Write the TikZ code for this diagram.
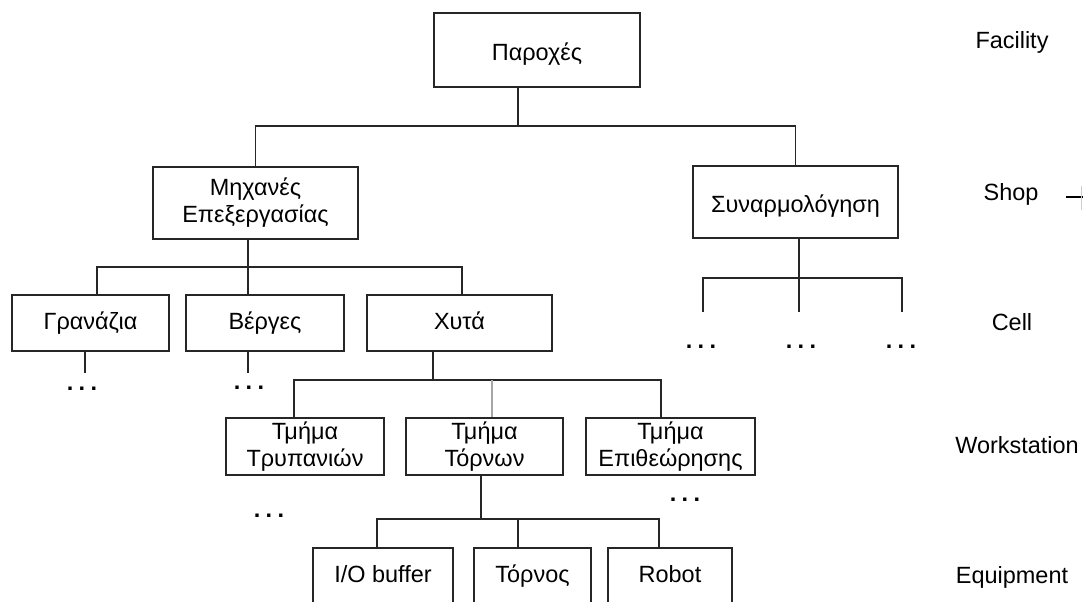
\documentclass[tikz,border=0pt]{standalone}
\usepackage{fontspec}
\setmainfont{Liberation Sans}
\begin{document}
\begin{tikzpicture}[x=0.75pt,y=-0.75pt,
  box/.style={draw=black!85,line width=1.1pt,inner sep=0pt,align=center,
    font=\fontsize{17.6}{20.3}\selectfont},
  oneline/.style={text height=13.2pt,text depth=3.5pt},
  topline/.style={text height=15pt,text depth=0pt},
  conn/.style={draw=black!85,line width=1pt},
  faint/.style={draw=black!35,line width=0.8pt},
  level/.style={anchor=base,font=\fontsize{17.6}{20.3}\selectfont},
  more/.style={anchor=base,font=\fontsize{17.6}{20.3}\selectfont\bfseries}]
\useasboundingbox (0,0) rectangle (1083,601);

% facility
\node[box,topline,minimum width=154.5pt,minimum height=55.5pt] (par) at (537,50) {Παροχές};

% shops
\node[box,minimum width=153.75pt,minimum height=54pt] (mech) at (255.5,203) {Μηχανές\\Επεξεργασίας};
\node[box,topline,minimum width=153.75pt,minimum height=54pt] (asm) at (795.5,202) {Συναρμολόγηση};

% cells
\node[box,oneline,minimum width=117.75pt,minimum height=42pt] (gran) at (90.5,323) {Γρανάζια};
\node[box,oneline,minimum width=118.5pt,minimum height=42pt] (verg) at (265,323) {Βέργες};
\node[box,oneline,minimum width=138.75pt,minimum height=42pt] (xyta) at (459.5,323) {Χυτά};

% workstations
\node[box,minimum width=118.5pt,minimum height=42.75pt] (trup) at (305,446.5) {Τμήμα\\Τρυπανιών};
\node[box,minimum width=117.75pt,minimum height=42.75pt] (torn) at (484.5,446.5) {Τμήμα\\Τόρνων};
\node[box,minimum width=126.75pt,minimum height=42.75pt] (epit) at (670.5,446.5) {Τμήμα\\Επιθεώρησης};

% equipment
\node[box,oneline,minimum width=105pt,minimum height=42pt] (io) at (383,576) {I/O buffer};
\node[box,oneline,minimum width=87.75pt,minimum height=42pt] (tornos) at (532.5,576) {Τόρνος};
\node[box,oneline,minimum width=93pt,minimum height=42pt] (robot) at (670,576) {Robot};

% facility -> shops
\draw[conn] (par.south -| 518,0) -- (518,126);
\draw[conn] (mech.north) |- (asm.north |- 0,126) -- (asm.north);

% machining shop -> cells
\draw[conn] (mech.south -| 248,0) -- (248,267);
\draw[conn] (gran.north -| 97,0) |- (462,267) -- (xyta.north -| 462,0);
\draw[conn] (248,267) -- (verg.north -| 248,0);

% assembly shop -> unnamed cells
\draw[conn] (asm.south -| 799,0) -- (799,312);
\coordinate (a1) at (703,312);
\coordinate (a3) at (902,312);
\draw[conn] (a1) |- (a3 |- 0,278) -- (a3);
\node[more] (d4) at (701,348) {.\kern4pt.\kern4pt.};
\node[more] (d5) at (801,348) {.\kern4pt.\kern4pt.};
\node[more] (d6) at (901,348) {.\kern4pt.\kern4pt.};

% cells that continue
\coordinate (g1) at (85,373);
\coordinate (v1) at (248,373);
\draw[conn] (gran.south -| g1) -- (g1);
\draw[conn] (verg.south -| v1) -- (v1);
\node[more] (d1) at (82,390) {.\kern4pt.\kern4pt.};
\node[more] (d2) at (249,389) {.\kern4pt.\kern4pt.};

% castings cell -> workstations
\draw[conn] (xyta.south -| 433,0) -- (433,380);
\draw[conn] (trup.north -| 294,0) |- (661,380) -- (epit.north -| 661,0);
\draw[faint] (492,380) -- (torn.north -| 492,0);
\node[more] (d3) at (269,517) {.\kern4pt.\kern4pt.};
\node[more] (d7) at (685,501) {.\kern4pt.\kern4pt.};

% lathe workstation -> equipment
\draw[conn] (torn.south -| 481,0) -- (481,519);
\draw[conn] (io.north -| 377,0) |- (659,519) -- (robot.north -| 659,0);
\draw[conn] (518,519) -- (tornos.north -| 518,0);

% level names
\node[level] (lf) at (1012,48) {Facility};
\node[level] (ls) at (1011,200) {Shop};
\node[level] (lc) at (1012,330) {Cell};
\node[level] (lw) at (1017,453) {Workstation};
\node[level] (le) at (1012,583) {Equipment};

% edge mark beside the shop level
\coordinate (s1) at (1066,197);
\coordinate (s2) at (1083,197);
\draw[line width=1.6pt] (s1) -- (s2);
\draw[draw=black!20,line width=0.5pt] (1081,186) -- (1081,210);
\end{tikzpicture}
\end{document}
